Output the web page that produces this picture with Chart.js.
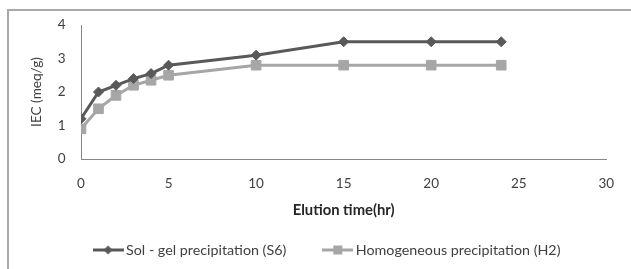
<!DOCTYPE html>
<html><head><meta charset="utf-8">
<script src="https://cdn.jsdelivr.net/npm/chart.js@4/dist/chart.umd.min.js"></script>
<style>
html,body{margin:0;padding:0;background:#fff;}
#wrap{position:relative;width:631px;height:269px;overflow:hidden;}
#frame{position:absolute;left:7px;top:9px;width:700px;height:400px;border-top:2px solid #a8a8a8;border-left:2px solid #a8a8a8;}
canvas{position:absolute;left:0;top:0;}
</style></head>
<body>
<div id="wrap"><div id="frame"></div><canvas id="c" width="631" height="269"></canvas></div>
<script>
const timeHr = [0, 1, 2, 3, 4, 5, 10, 15, 20, 24];
const solGelS6 = [1.2, 2.0, 2.2, 2.4, 2.55, 2.8, 3.1, 3.5, 3.5, 3.5];
const homogeneousH2 = [0.9, 1.5, 1.9, 2.2, 2.35, 2.5, 2.8, 2.8, 2.8, 2.8];
const seriesNames = ['Sol - gel precipitation (S6)', 'Homogeneous precipitation (H2)'];
const xTicks = [0, 5, 10, 15, 20, 25, 30];
const yTicks = [0, 1, 2, 3, 4];
const xTitle = 'Elution time(hr)';
const yTitle = 'IEC (meq/g)';

const darkCol = '#595959';
const lightCol = '#a6a6a6';
const textCol = '#404040';
const FONT = 'Lato, "Open Sans", sans-serif';

// font sizes matched to the reference text widths
const mctx = document.createElement('canvas').getContext('2d');
function widthAt(text, size, weight) {
  mctx.font = weight + ' ' + size + 'px ' + FONT;
  return mctx.measureText(text).width;
}
function fitSize(texts, target, weight) {
  const w = texts.reduce((a, t) => a + widthAt(t, 20, weight), 0);
  return Math.round(200 * target / w) / 10;
}
const sL = fitSize(seriesNames, 161 + 204, 'normal');
const sT = fitSize([xTitle], 102, 'bold');
const sK = fitSize(['1020'], 31.4, 'normal');
const sY = fitSize([yTitle], 70, 'normal');
const lhK = sK * 1.2, lhT = sT * 1.2, lhY = sY * 1.2;

// layout (pixel targets from the reference)
const plotLeft = 81, plotRight = 612, plotTop = 25, plotBottom = 159;
const iconW = 31;
const B = 36 - sL;                 // legend box width
const P = 51.5 - B / 2;            // legend padding
const padBottom = 9 - sL / 2;      // legend text centre at y=250
const legendTop = 269 - padBottom - (sL + P + 10);
const blockCenter = (93 - B / 2 + iconW / 2 + 560) / 2;
const padLeft = 2 * blockCenter - plotRight;

function legendIcon(color, style) {
  const c = document.createElement('canvas');
  c.width = iconW; c.height = 12;
  const g = c.getContext('2d');
  g.strokeStyle = color; g.lineWidth = 3;
  g.beginPath(); g.moveTo(0, 6); g.lineTo(iconW, 6); g.stroke();
  g.fillStyle = color;
  g.beginPath();
  const cx = iconW / 2;
  if (style === 'diamond') {
    g.moveTo(cx, 1.5); g.lineTo(cx + 4.5, 6); g.lineTo(cx, 10.5); g.lineTo(cx - 4.5, 6); g.closePath();
  } else {
    g.rect(cx - 4.5, 1.5, 9, 9);
  }
  g.fill();
  return c;
}

const toXY = (xs, ys) => xs.map((x, i) => ({x: x, y: ys[i]}));

new Chart(document.getElementById('c'), {
  type: 'line',
  data: {
    datasets: [
      {
        label: seriesNames[0],
        data: toXY(timeHr, solGelS6),
        borderColor: darkCol, backgroundColor: darkCol,
        borderWidth: 3, pointStyle: 'rectRot', pointRadius: 5, pointBorderWidth: 1,
        pointBackgroundColor: darkCol, pointBorderColor: darkCol,
        tension: 0, fill: false
      },
      {
        label: seriesNames[1],
        data: toXY(timeHr, homogeneousH2),
        borderColor: lightCol, backgroundColor: lightCol,
        borderWidth: 3, pointStyle: 'rect', pointRadius: 6.8, pointBorderWidth: 1,
        pointBackgroundColor: lightCol, pointBorderColor: lightCol,
        tension: 0, fill: false
      }
    ]
  },
  options: {
    responsive: false,
    animation: false,
    devicePixelRatio: 1,
    layout: {padding: {left: padLeft, right: 631 - plotRight, top: plotTop, bottom: padBottom}},
    plugins: {
      tooltip: {enabled: false},
      legend: {
        position: 'bottom',
        labels: {
          usePointStyle: true,
          pointStyleWidth: B,
          padding: P,
          color: textCol,
          font: {family: FONT, size: sL},
          generateLabels: (chart) => chart.data.datasets.map((ds, i) => ({
            text: ds.label,
            pointStyle: legendIcon(ds.borderColor, i === 0 ? 'diamond' : 'square'),
            fillStyle: ds.borderColor, strokeStyle: ds.borderColor, lineWidth: 0,
            fontColor: textCol, datasetIndex: i, hidden: false
          }))
        }
      }
    },
    scales: {
      x: {
        type: 'linear', min: 0, max: 30,
        afterBuildTicks: (s) => { s.ticks = xTicks.map(v => ({value: v})); },
        afterFit: (s) => { s.height = legendTop - plotBottom; },
        grid: {display: false, drawTicks: false},
        border: {display: true, color: '#868686', width: 1},
        ticks: {padding: 184 - plotBottom - lhK / 2, color: textCol, font: {family: FONT, size: sK}},
        title: {display: true, text: xTitle, color: '#262626',
          font: {family: FONT, size: sT, weight: 'bold'},
          padding: {top: 0, bottom: legendTop - 210 - lhT / 2}}
      },
      y: {
        type: 'linear', min: 0, max: 4,
        afterBuildTicks: (s) => { s.ticks = yTicks.map(v => ({value: v})); },
        afterFit: (s) => { s.width = plotLeft - padLeft; },
        grid: {display: false, drawTicks: false},
        border: {display: true, color: '#868686', width: 1},
        ticks: {padding: 15.5, color: textCol, font: {family: FONT, size: sK}},
        title: {display: true, text: yTitle, color: textCol,
          font: {family: FONT, size: sY},
          padding: {top: 37 - padLeft - lhY / 2, bottom: 0}}
      }
    }
  }
});
</script>
</body></html>
